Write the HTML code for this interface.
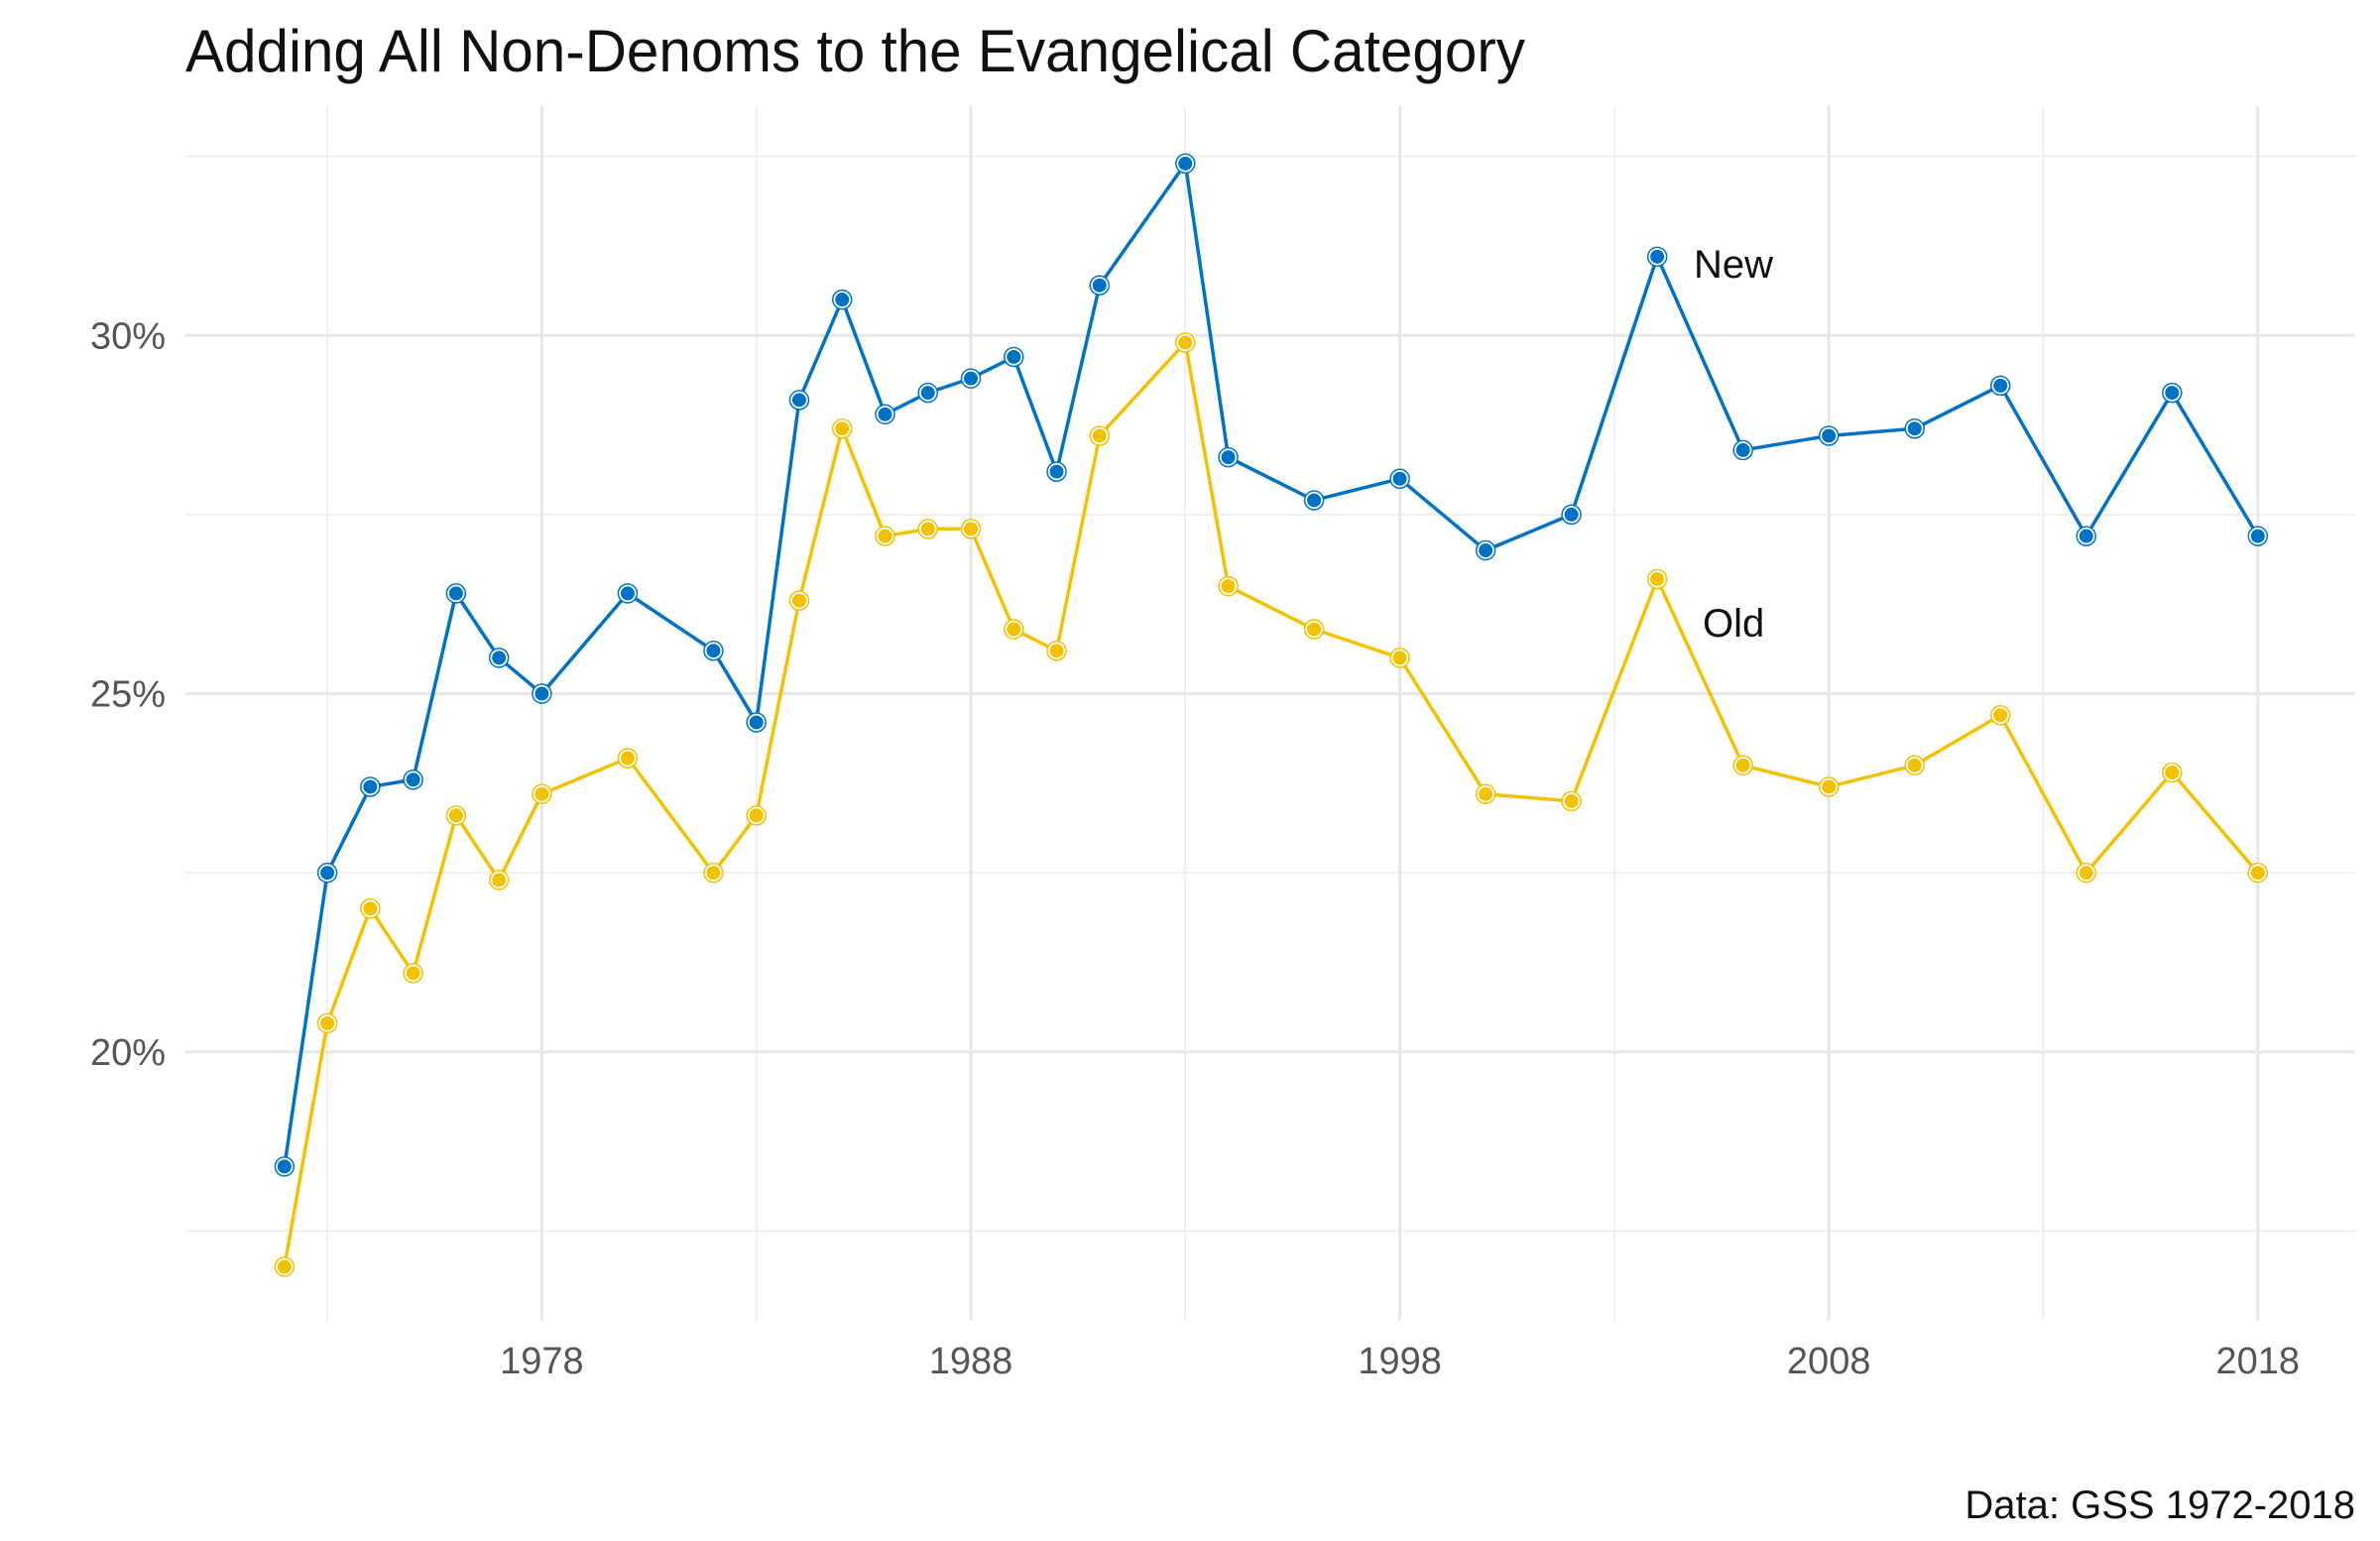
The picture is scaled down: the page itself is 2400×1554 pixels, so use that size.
<!DOCTYPE html>
<html><head><meta charset="utf-8"><style>
html,body{margin:0;padding:0;background:#fff;}
svg text{font-family:"Liberation Sans Narrow","Liberation Sans",sans-serif;}
</style></head><body>
<svg id="chart" width="2400" height="1549" viewBox="0 0 2400 1549" xmlns="http://www.w3.org/2000/svg">
<text x="187" y="72" font-size="60" fill="#111" textLength="1351" lengthAdjust="spacingAndGlyphs">Adding All Non-Denoms to the Evangelical Category</text>
<g id="grid"></g>
<g id="series"></g>
<text x="1708" y="280" font-size="40" fill="#111">New</text>
<text x="1717" y="642" font-size="40" fill="#111">Old</text>
<text x="2375" y="1531" font-size="40" fill="#111" text-anchor="end">Data: GSS 1972-2018</text>
</svg>
<script>
const years=[1972,1973,1974,1975,1976,1977,1978,1980,1982,1983,1984,1985,1986,1987,1988,1989,1990,1991,1993,1994,1996,1998,2000,2002,2004,2006,2008,2010,2012,2014,2016,2018];
const newVals=[18.4,22.5,23.7,23.8,26.4,25.5,25.0,26.4,25.6,24.6,29.1,30.5,28.9,29.2,29.4,29.7,28.1,30.7,32.4,28.3,27.7,28.0,27.0,27.5,31.1,28.4,28.6,28.7,29.3,27.2,29.2,27.2];
const oldVals=[17.0,20.4,22.0,21.1,23.3,22.4,23.6,24.1,22.5,23.3,26.3,28.7,27.2,27.3,27.3,25.9,25.6,28.6,29.9,26.5,25.9,25.5,23.6,23.5,26.6,24.0,23.7,24.0,24.7,22.5,23.9,22.5];
const xTicks=[1978,1988,1998,2008,2018];
const xMinor=[1973,1983,1993,2003,2013];
const yTicks=[20,25,30];
const yMinor=[17.5,22.5,27.5,32.5];
const NS="http://www.w3.org/2000/svg";
const X=y=>546.4+(y-1978)*43.26;
const Y=p=>338.3-(p-30)*72.25;
const L=187,R=2375,T=107,B=1332;
const grid=document.getElementById('grid'),ser=document.getElementById('series');
function mk(tag,attrs,parent){const e=document.createElementNS(NS,tag);for(const k in attrs)e.setAttribute(k,attrs[k]);parent.appendChild(e);return e;}
yMinor.forEach(v=>{const l=mk('line',{x1:L,x2:R,y1:Y(v),y2:Y(v),stroke:'#ebebeb','stroke-width':1.5},grid);

});
xMinor.forEach(v=>{const l=mk('line',{x1:X(v),x2:X(v),y1:T,y2:B,stroke:'#ebebeb','stroke-width':1.5},grid);

});
yTicks.forEach(v=>{const l=mk('line',{x1:L,x2:R,y1:Y(v),y2:Y(v),stroke:'#e6e6e6','stroke-width':3},grid);


const t=mk('text',{x:167,y:Y(v)+13,'font-size':38,fill:'#555','text-anchor':'end'},grid);t.textContent=v+'%';

});
xTicks.forEach(v=>{const l=mk('line',{x1:X(v),x2:X(v),y1:T,y2:B,stroke:'#e6e6e6','stroke-width':3},grid);


const t=mk('text',{x:X(v),y:1385,'font-size':38,fill:'#555','text-anchor':'middle'},grid);t.textContent=v;

});
function draw(vals,color,name){
 const pts=vals.map((v,i)=>X(years[i])+','+Y(v)).join(' ');
 const pl=mk('polyline',{points:pts,fill:'none',stroke:color,'stroke-width':3.5,'stroke-linejoin':'round'},ser);
 
 
 vals.forEach((v,i)=>{
  const c=mk('circle',{cx:X(years[i]),cy:Y(v),r:8,fill:color,stroke:'#fff','stroke-width':2},ser);
  
  
  const o=mk('circle',{cx:X(years[i]),cy:Y(v),r:9.5,fill:'none',stroke:color,'stroke-width':1.5},ser);
  
  
 });
}
draw(oldVals,'#F2C100','old');
draw(newVals,'#0072C6','new');
</script>
</body></html>
